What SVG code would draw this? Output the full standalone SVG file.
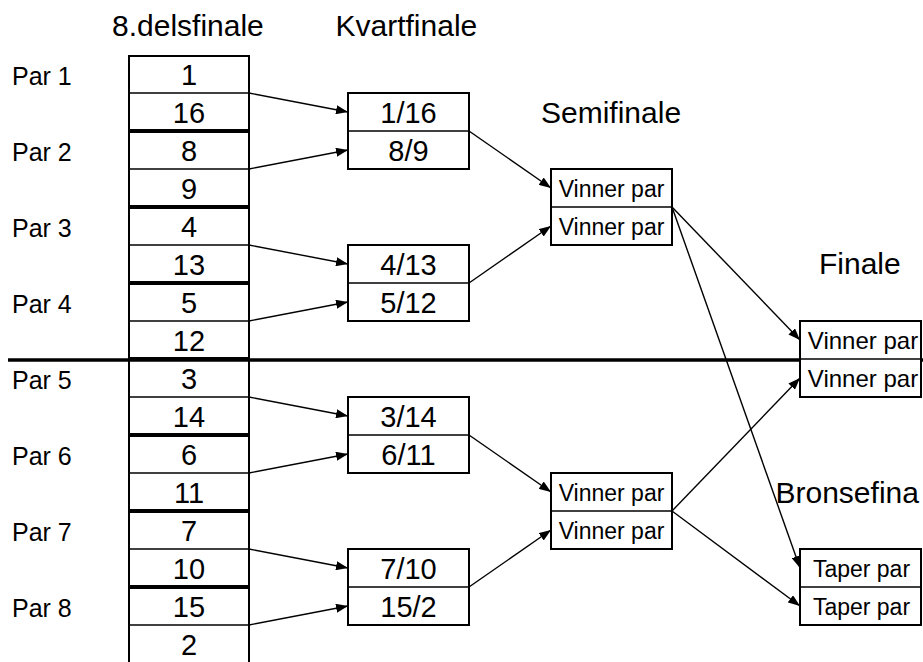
<svg xmlns="http://www.w3.org/2000/svg" width="923" height="662" viewBox="0 0 923 662">
<style>
text{font-family:"Liberation Sans",Arial,sans-serif;fill:#000}
.h{font-size:30px}
.par{font-size:25px}
.num{font-size:29px;text-anchor:middle}
.vp{font-size:23px;text-anchor:middle}
.vf{font-size:24px;text-anchor:middle}
.box{fill:#fff;stroke:#000;stroke-width:2}
.div{stroke:#000;stroke-width:1.4}
.con line{stroke:#000;stroke-width:1.4;marker-end:url(#ah)}
</style>
<defs>
<marker id="ah" viewBox="0 0 12 9" refX="12" refY="4.5" markerWidth="12" markerHeight="9" markerUnits="userSpaceOnUse" orient="auto">
<path d="M0,0 L12,4.5 L0,9 z" fill="#000"/>
</marker>
</defs>
<rect width="923" height="662" fill="#fff"/>

<g id="headings">
<text class="h" x="112" y="36">8.delsfinale</text>
<text class="h" x="335.5" y="36">Kvartfinale</text>
<text class="h" x="541" y="123">Semifinale</text>
<text class="h" x="819" y="274">Finale</text>
<text class="h" x="775.5" y="503">Bronsefina</text>
</g>

<g id="par-labels">
<text class="par" x="12" y="85">Par 1</text>
<text class="par" x="12" y="161">Par 2</text>
<text class="par" x="12" y="237">Par 3</text>
<text class="par" x="12" y="313">Par 4</text>
<text class="par" x="12" y="389">Par 5</text>
<text class="par" x="12" y="465">Par 6</text>
<text class="par" x="12" y="541">Par 7</text>
<text class="par" x="12" y="617">Par 8</text>
</g>

<g id="pair1"><rect class="box" x="129" y="56" width="120" height="74"/><line class="div" x1="129" y1="93" x2="249" y2="93"/><text class="num" x="189" y="84.5">1</text><text class="num" x="189" y="122.5">16</text></g>
<g id="pair2"><rect class="box" x="129" y="132" width="120" height="74"/><line class="div" x1="129" y1="169" x2="249" y2="169"/><text class="num" x="189" y="160.5">8</text><text class="num" x="189" y="198.5">9</text></g>
<g id="pair3"><rect class="box" x="129" y="208" width="120" height="74"/><line class="div" x1="129" y1="245" x2="249" y2="245"/><text class="num" x="189" y="236.5">4</text><text class="num" x="189" y="274.5">13</text></g>
<g id="pair4"><rect class="box" x="129" y="284" width="120" height="74"/><line class="div" x1="129" y1="321" x2="249" y2="321"/><text class="num" x="189" y="312.5">5</text><text class="num" x="189" y="350.5">12</text></g>
<g id="pair5"><rect class="box" x="129" y="360" width="120" height="74"/><line class="div" x1="129" y1="397" x2="249" y2="397"/><text class="num" x="189" y="388.5">3</text><text class="num" x="189" y="426.5">14</text></g>
<g id="pair6"><rect class="box" x="129" y="436" width="120" height="74"/><line class="div" x1="129" y1="473" x2="249" y2="473"/><text class="num" x="189" y="464.5">6</text><text class="num" x="189" y="502.5">11</text></g>
<g id="pair7"><rect class="box" x="129" y="512" width="120" height="74"/><line class="div" x1="129" y1="549" x2="249" y2="549"/><text class="num" x="189" y="540.5">7</text><text class="num" x="189" y="578.5">10</text></g>
<g id="pair8"><rect class="box" x="129" y="588" width="120" height="90"/><line class="div" x1="129" y1="625" x2="249" y2="625"/><text class="num" x="189" y="616.5">15</text><text class="num" x="189" y="654.5">2</text></g>

<g id="divider"><line x1="8" y1="360" x2="923" y2="360" stroke="#000" stroke-width="3.5"/></g>

<g id="qf1"><rect class="box" x="348" y="93" width="121" height="76"/><line class="div" x1="348" y1="131" x2="469" y2="131"/><text class="num" x="408.5" y="122.5">1/16</text><text class="num" x="408.5" y="160.5">8/9</text></g>
<g id="qf2"><rect class="box" x="348" y="245" width="121" height="76"/><line class="div" x1="348" y1="283" x2="469" y2="283"/><text class="num" x="408.5" y="274.5">4/13</text><text class="num" x="408.5" y="312.5">5/12</text></g>
<g id="qf3"><rect class="box" x="348" y="397" width="121" height="76"/><line class="div" x1="348" y1="435" x2="469" y2="435"/><text class="num" x="408.5" y="426.5">3/14</text><text class="num" x="408.5" y="464.5">6/11</text></g>
<g id="qf4"><rect class="box" x="348" y="549" width="121" height="76"/><line class="div" x1="348" y1="587" x2="469" y2="587"/><text class="num" x="408.5" y="578.5">7/10</text><text class="num" x="408.5" y="616.5">15/2</text></g>

<g id="sf1"><rect class="box" x="551" y="169" width="121" height="76"/><line class="div" x1="551" y1="207" x2="672" y2="207"/><text class="vp" x="611.5" y="196.5">Vinner par</text><text class="vp" x="611.5" y="234.5">Vinner par</text></g>
<g id="sf2"><rect class="box" x="551" y="473" width="121" height="76"/><line class="div" x1="551" y1="511" x2="672" y2="511"/><text class="vp" x="611.5" y="500.5">Vinner par</text><text class="vp" x="611.5" y="538.5">Vinner par</text></g>

<g id="final"><rect class="box" x="800" y="321" width="121" height="76"/><line class="div" x1="800" y1="359" x2="921" y2="359"/><text class="vf" x="863" y="348.5">Vinner par</text><text class="vf" x="863" y="386.5">Vinner par</text></g>
<g id="bronze"><rect class="box" x="800" y="549" width="121" height="76"/><line class="div" x1="800" y1="587" x2="921" y2="587"/><text class="vp" x="861.5" y="576.5">Taper par</text><text class="vp" x="861.5" y="614.5">Taper par</text></g>

<g id="connectors" class="con">
<line x1="249" y1="93" x2="348" y2="112"/>
<line x1="249" y1="169" x2="348" y2="150"/>
<line x1="249" y1="245" x2="348" y2="264"/>
<line x1="249" y1="321" x2="348" y2="302"/>
<line x1="249" y1="397" x2="348" y2="416"/>
<line x1="249" y1="473" x2="348" y2="454"/>
<line x1="249" y1="549" x2="348" y2="568"/>
<line x1="249" y1="625" x2="348" y2="606"/>
<line x1="469" y1="131" x2="551" y2="188"/>
<line x1="469" y1="283" x2="551" y2="226"/>
<line x1="469" y1="435" x2="551" y2="492"/>
<line x1="469" y1="587" x2="551" y2="530"/>
<line x1="672" y1="207" x2="800" y2="340"/>
<line x1="672" y1="207" x2="800" y2="568"/>
<line x1="672" y1="511" x2="800" y2="378"/>
<line x1="672" y1="511" x2="800" y2="606"/>
</g>
</svg>
